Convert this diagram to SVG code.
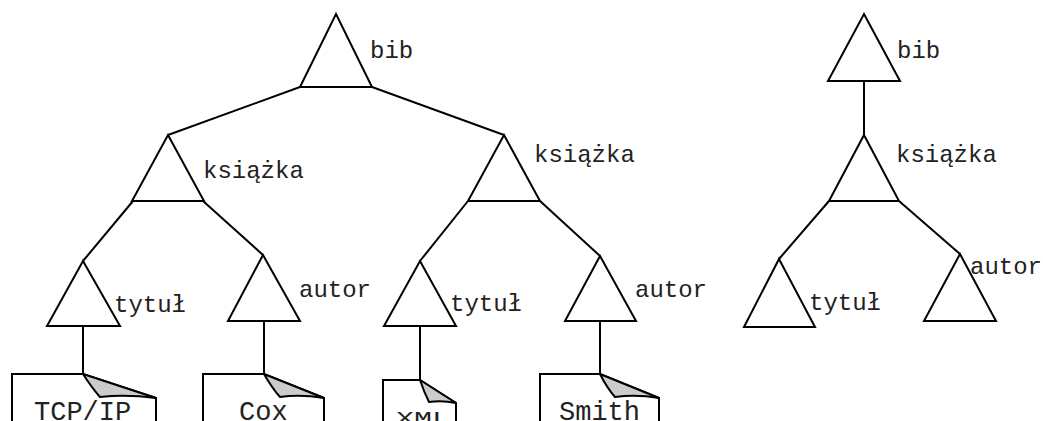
<svg xmlns="http://www.w3.org/2000/svg" width="1043" height="421" viewBox="0 0 1043 421">
  <style>
    .tri { fill: #fff; stroke: #000; stroke-width: 2; stroke-linejoin: miter; }
    .edge { fill: none; stroke: #000; stroke-width: 2; }
    .lbl { font-family: "Liberation Mono", "Courier New", monospace; font-size: 24px; fill: #222; }
    .doc { fill: #fff; stroke: #000; stroke-width: 2; }
    .curl { fill: #ccc; stroke: #000; stroke-width: 2; stroke-linejoin: round; }
    .dtxt { font-family: "Liberation Mono", "Courier New", monospace; font-size: 27px; fill: #222; }
  </style>
  <rect width="1043" height="421" fill="#fff"/>

  <!-- tree edges -->
  <g id="connectors">
    <line class="edge" x1="300" y1="87" x2="168" y2="135"/>
    <line class="edge" x1="372" y1="87" x2="504" y2="135"/>
    <line class="edge" x1="133" y1="201" x2="83" y2="261"/>
    <line class="edge" x1="203" y1="201" x2="263" y2="255"/>
    <line class="edge" x1="468" y1="201" x2="420" y2="261"/>
    <line class="edge" x1="540" y1="201" x2="600" y2="256"/>
    <line class="edge" x1="83" y1="326" x2="83" y2="374"/>
    <line class="edge" x1="264" y1="321" x2="264" y2="374"/>
    <line class="edge" x1="420" y1="326" x2="420" y2="380"/>
    <line class="edge" x1="600" y1="321" x2="600" y2="374"/>
    <line class="edge" x1="864" y1="81" x2="864" y2="135"/>
    <line class="edge" x1="829" y1="201" x2="779" y2="259"/>
    <line class="edge" x1="899" y1="201" x2="960" y2="254"/>
  </g>

  <!-- left tree -->
  <g id="bib">
    <polygon class="tri" points="336,14 372,87 300,87"/>
    <text class="lbl" x="370" y="58">bib</text>
  </g>
  <g id="ksiazka-1">
    <polygon class="tri" points="168,135 204,201 132,201"/>
    <text class="lbl" x="203" y="178">książka</text>
  </g>
  <g id="ksiazka-2">
    <polygon class="tri" points="504,135 540,201 468,201"/>
    <text class="lbl" x="534" y="162">książka</text>
  </g>
  <g id="tytul-1">
    <polygon class="tri" points="83,261 120,326 47,326"/>
    <text class="lbl" x="114" y="312">tytuł</text>
  </g>
  <g id="autor-1">
    <polygon class="tri" points="263,255 300,321 228,321"/>
    <text class="lbl" x="299" y="297">autor</text>
  </g>
  <g id="tytul-2">
    <polygon class="tri" points="420,261 456,326 384,326"/>
    <text class="lbl" x="450" y="311">tytuł</text>
  </g>
  <g id="autor-2">
    <polygon class="tri" points="600,256 636,321 565,321"/>
    <text class="lbl" x="635" y="297">autor</text>
  </g>

  <!-- documents -->
  <g id="doc-tcpip">
    <path class="doc" d="M12 430 V374 H83 L156 398 V430"/>
    <path class="curl" d="M83 374 L156 398 Q126 394 100 397 Q92 388 83 374 Z"/>
    <text class="dtxt" x="34" y="420">TCP/IP</text>
  </g>
  <g id="doc-cox">
    <path class="doc" d="M203 430 V374 H264 L324 398 V430"/>
    <path class="curl" d="M264 374 L324 398 Q300 394 280 397 Q272 388 264 374 Z"/>
    <text class="dtxt" x="239" y="420">Cox</text>
  </g>
  <g id="doc-xml">
    <path class="doc" d="M383 430 V380 H420 L456 403 V430"/>
    <path class="curl" d="M420 380 L456 403 Q442 400 429 402 Q424 392 420 380 Z"/>
    <text class="dtxt" style="font-size:19px" x="396" y="424" textLength="54" lengthAdjust="spacingAndGlyphs">XML</text>
  </g>
  <g id="doc-smith">
    <path class="doc" d="M540 430 V374 H600 L659 398 V430"/>
    <path class="curl" d="M600 374 L659 398 Q636 394 615 397 Q607 388 600 374 Z"/>
    <text class="dtxt" x="559" y="420">Smith</text>
  </g>

  <!-- right tree -->
  <g id="bib-b">
    <polygon class="tri" points="864,14 900,81 828,81"/>
    <text class="lbl" x="897" y="58">bib</text>
  </g>
  <g id="ksiazka-b">
    <polygon class="tri" points="864,135 899,201 829,201"/>
    <text class="lbl" x="896" y="162">książka</text>
  </g>
  <g id="tytul-b">
    <polygon class="tri" points="779,259 815,327 744,327"/>
    <text class="lbl" x="809" y="310">tytuł</text>
  </g>
  <g id="autor-b">
    <polygon class="tri" points="960,254 996,321 924,321"/>
    <text class="lbl" x="970" y="274">autor</text>
  </g>
</svg>
